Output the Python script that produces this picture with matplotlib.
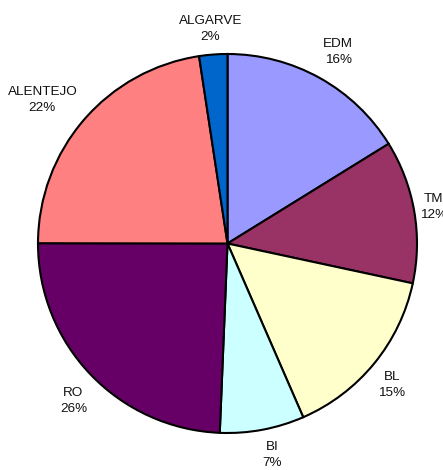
import numpy as np
import matplotlib
matplotlib.use("Agg")
import matplotlib.pyplot as plt

regions = ["EDM", "TM", "BL", "BI", "RO", "ALENTEJO", "ALGARVE"]
slice_sizes = [16.2, 12.2, 15.1, 7.2, 24.4, 22.6, 2.4]
# percentages printed on the labels
label_pcts = [16, 12, 15, 7, 26, 22, 2]
colors = ["#9999FF", "#993366", "#FFFFCC", "#CCFFFF", "#660066", "#FF8080", "#0066CC"]

plt.rcParams["font.family"] = ["Liberation Sans", "DejaVu Sans"]

W, H = 443, 470
fig = plt.figure(figsize=(W / 100, H / 100), dpi=100)
ax = fig.add_axes([0, 0, 1, 1])

cx, cy, R = 227.5, 226.5, 189.5
wedges, _ = ax.pie(slice_sizes, colors=colors, startangle=90, counterclock=False,
                   center=(cx, cy), radius=R, frame=True,
                   wedgeprops=dict(edgecolor="black", linewidth=1.5))
ax.set_xlim(0, W)
ax.set_ylim(0, H)
ax.axis("off")

# small hand nudges (px) so labels sit where the original put them
nudges = [(4, 0), (-6, 0), (-5, -3), (5, 0), (4, -6), (-7, -10), (-1, -1)]

gap = 10
fig.canvas.draw()
renderer = fig.canvas.get_renderer()
for w, name, pct, (nx, ny) in zip(wedges, regions, label_pcts, nudges):
    mid = np.deg2rad((w.theta1 + w.theta2) / 2)
    t = ax.text(0, 0, f"{name}\n{pct}%", ha="center", va="center",
                fontsize=9.7, color="#111111", linespacing=1.45)
    bb = t.get_window_extent(renderer)
    d = R + gap + abs(np.cos(mid)) * bb.width / 2 + abs(np.sin(mid)) * bb.height / 2
    t.set_position((cx + d * np.cos(mid) + nx, cy + d * np.sin(mid) + ny))

fig.savefig("out.png", dpi=100)
